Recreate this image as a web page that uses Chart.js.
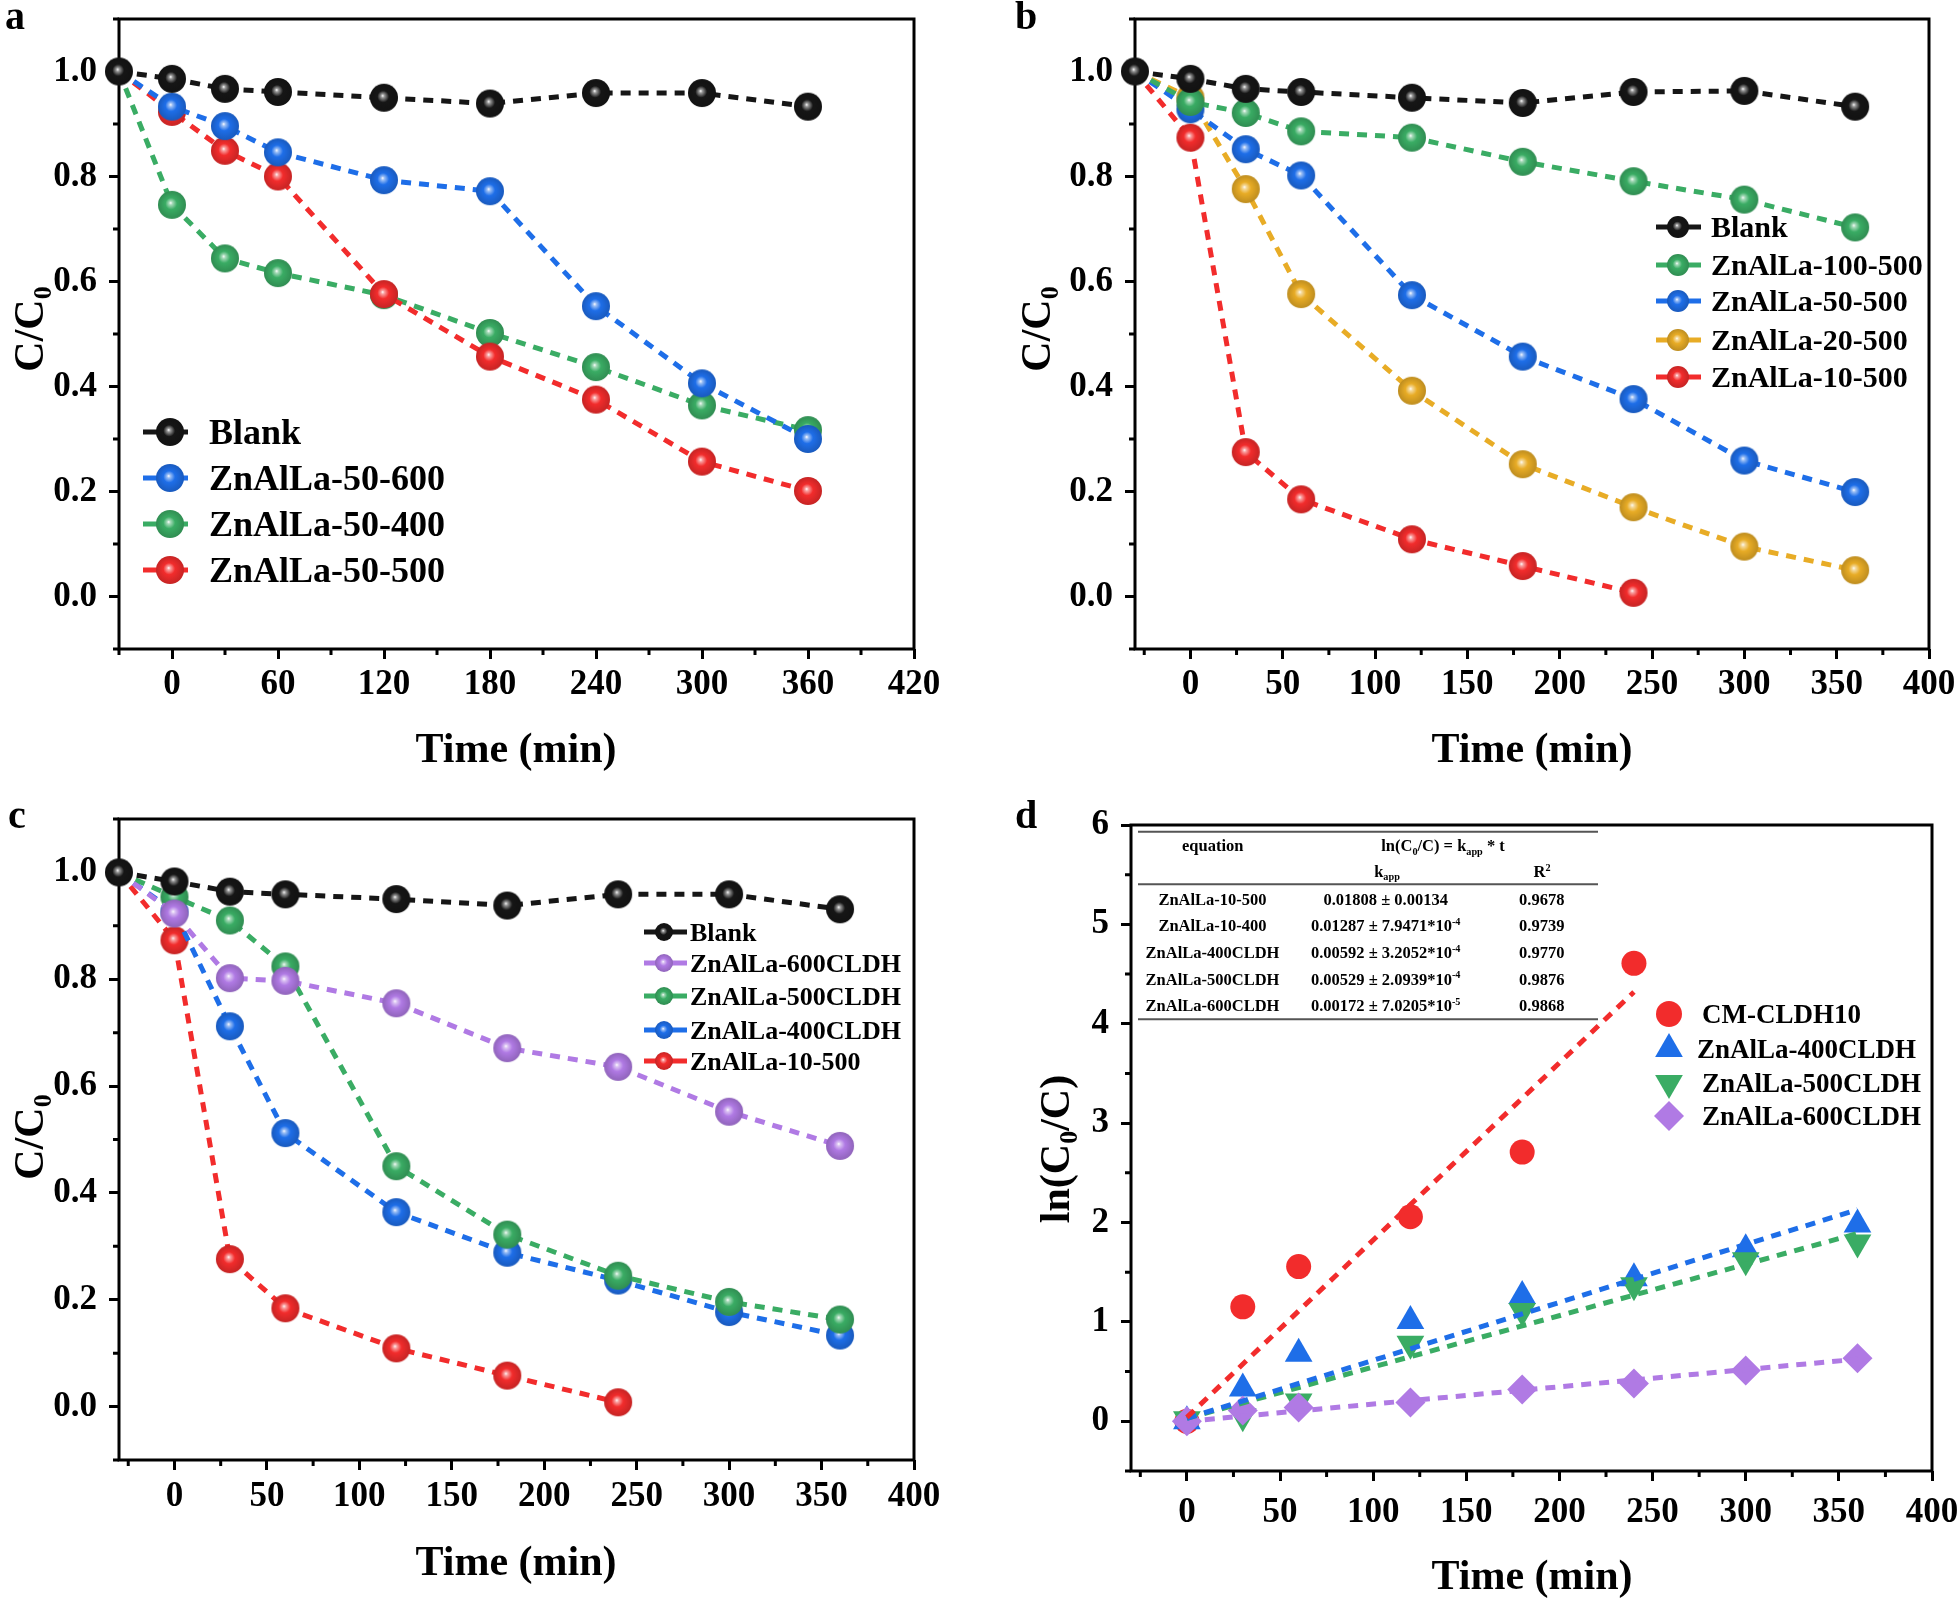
<!DOCTYPE html>
<html>
<head>
<meta charset="utf-8">
<script src="https://cdn.jsdelivr.net/npm/chart.js@4.4.1/dist/chart.umd.min.js"></script>
<style>
  body { margin: 0; background: #fff; width: 1960px; height: 1599px; position: relative; overflow: hidden; }
  canvas { position: absolute; }
</style>
</head>
<body>
<canvas id="chartA" width="980" height="800" style="left:0;top:0"></canvas>
<canvas id="chartB" width="980" height="800" style="left:980px;top:0"></canvas>
<canvas id="chartC" width="980" height="799" style="left:0;top:800px"></canvas>
<canvas id="chartD" width="980" height="799" style="left:980px;top:800px"></canvas>
<script>
// ---------- data, panel a ----------
const timeA = [-30, 0, 30, 60, 120, 180, 240, 300, 360];
const blankA = [1.0, 0.986, 0.967, 0.961, 0.950, 0.939, 0.959, 0.959, 0.933];
const znal50_600 = [1.0, 0.933, 0.896, 0.846, 0.793, 0.772, 0.553, 0.406, 0.300];
const znal50_400 = [1.0, 0.746, 0.644, 0.616, 0.574, 0.502, 0.437, 0.364, 0.317];
const znal50_500 = [1.0, 0.923, 0.849, 0.800, 0.576, 0.457, 0.375, 0.257, 0.201];
const xTicksA = [0, 60, 120, 180, 240, 300, 360, 420];
const xMinorA = [-30, 30, 90, 150, 210, 270, 330, 390];

// ---------- data, panel b ----------
const timeB = [-30, 0, 30, 60, 120, 180, 240, 300, 360];
const timeShort = [-30, 0, 30, 60, 120, 180, 240];
const blankB = [1.0, 0.986, 0.967, 0.961, 0.950, 0.940, 0.961, 0.963, 0.933];
const znal100_500 = [1.0, 0.942, 0.921, 0.886, 0.874, 0.828, 0.791, 0.756, 0.703];
const znal50_500b = [1.0, 0.928, 0.852, 0.802, 0.574, 0.457, 0.376, 0.259, 0.199];
const znal20_500 = [1.0, 0.950, 0.776, 0.576, 0.392, 0.252, 0.170, 0.095, 0.050];
const znal10_500 = [1.0, 0.874, 0.275, 0.185, 0.109, 0.058, 0.007];

// ---------- data, panel c ----------
const blankC = [1.0, 0.983, 0.964, 0.959, 0.950, 0.938, 0.959, 0.959, 0.931];
const cldh600 = [1.0, 0.923, 0.802, 0.797, 0.755, 0.671, 0.636, 0.552, 0.488];
const cldh500 = [1.0, 0.954, 0.910, 0.824, 0.450, 0.322, 0.245, 0.196, 0.163];
const cldh400 = [1.0, 0.926, 0.712, 0.512, 0.364, 0.288, 0.236, 0.177, 0.133];
const znal10_500c = [1.0, 0.873, 0.276, 0.184, 0.109, 0.058, 0.008];

const xTicksB = [0, 50, 100, 150, 200, 250, 300, 350, 400];
const xMinorB = [-25, 25, 75, 125, 175, 225, 275, 325, 375];
const yTicksC = [0, 0.2, 0.4, 0.6, 0.8, 1.0];
const yMinorC = [-0.1, 0.1, 0.3, 0.5, 0.7, 0.9, 1.1];

// ---------- data, panel d ----------
const timeD = [0, 30, 60, 120, 180, 240, 300, 360];
const timeDShort = [0, 30, 60, 120, 180, 240];
const lnCm10 = [0, 1.152, 1.557, 2.058, 2.709, 4.608];
const ln400 = [0, 0.33, 0.68, 1.01, 1.26, 1.44, 1.73, 1.98];
const ln500 = [0.02, 0.05, 0.20, 0.78, 1.11, 1.37, 1.62, 1.80];
const ln600 = [0, 0.11, 0.14, 0.19, 0.32, 0.38, 0.51, 0.635];
const fitRedX = [0, 240];
const fitRedY = [0.04, 4.32];
const fitX = [0, 360];
const fit400Y = [0.03, 2.13];
const fit500Y = [0.03, 1.89];
const fit600Y = [0.0, 0.625];
const yTicksD = [0, 1, 2, 3, 4, 5, 6];
const yMinorD = [-0.5, 0.5, 1.5, 2.5, 3.5, 4.5, 5.5];

const tableNames = ['ZnAlLa-10-500', 'ZnAlLa-10-400', 'ZnAlLa-400CLDH', 'ZnAlLa-500CLDH', 'ZnAlLa-600CLDH'];
const tableK = ['0.01808 ± 0.00134', '0.01287 ± 7.9471*10', '0.00592 ± 3.2052*10', '0.00529 ± 2.0939*10', '0.00172 ± 7.0205*10'];
const tableKExp = ['', '-4', '-4', '-4', '-5'];
const tableR2 = ['0.9678', '0.9739', '0.9770', '0.9876', '0.9868'];

// ---------- styles ----------
const FAM = '"Liberation Serif", "Times New Roman", serif';
const BLACK = [22, 22, 22], BLUE = [30, 110, 232], GREEN = [58, 172, 100],
      RED = [242, 44, 44], ORANGE = [232, 172, 38], PURPLE = [176, 122, 228];
const css = c => `rgb(${c[0]},${c[1]},${c[2]})`;

function sphere(rgb, r) {
  const s = Math.ceil(2 * r + 2);
  const cv = document.createElement('canvas');
  cv.width = cv.height = s;
  const g = cv.getContext('2d');
  const c = s / 2;
  const lit = rgb.map(v => Math.round(v + (255 - v) * 0.55));
  const dark = rgb.map(v => Math.round(v * 0.82));
  const gr = g.createRadialGradient(c - r * 0.1, c - r * 0.15, 0, c, c, r);
  gr.addColorStop(0, '#ffffff');
  gr.addColorStop(0.13, css(lit));
  gr.addColorStop(0.42, css(rgb));
  gr.addColorStop(1, css(dark));
  g.fillStyle = gr;
  g.beginPath();
  g.arc(c, c, r, 0, Math.PI * 2);
  g.fill();
  return cv;
}

function pts(xs, ys) {
  return xs.map((x, i) => ({ x: x, y: ys[i] }));
}

function sphereSet(label, xs, ys, rgb, hideFirst) {
  const img = sphere(rgb, 14);
  return {
    label: label, data: pts(xs, ys), clip: false,
    borderColor: css(rgb), borderWidth: 5, borderDash: [10, 8],
    pointStyle: img,
    pointRadius: c => (hideFirst && c.dataIndex === 0 ? 0 : 14),
    pointHoverRadius: 14
  };
}

function drawRich(ctx, parts, x, y, size, align) {
  let w = 0;
  const ws = parts.map(p => {
    ctx.font = `bold ${p[1] ? size * 0.62 : size}px ${FAM}`;
    const m = ctx.measureText(p[0]).width;
    w += m;
    return m;
  });
  let cx = align === 'left' ? x : x - w / 2;
  ctx.textAlign = 'left';
  ctx.textBaseline = 'alphabetic';
  ctx.fillStyle = '#000';
  parts.forEach((p, i) => {
    ctx.font = `bold ${p[1] ? size * 0.62 : size}px ${FAM}`;
    const dy = p[1] === 'sub' ? size * 0.2 : p[1] === 'sup' ? -size * 0.38 : 0;
    ctx.fillText(p[0], cx, y + dy);
    cx += ws[i];
  });
}

function drawShape(ctx, shape, r, x, y) {
  ctx.beginPath();
  if (shape === 'circle') {
    ctx.arc(x, y, r, 0, Math.PI * 2);
  } else if (shape === 'up' || shape === 'down') {
    const s = shape === 'up' ? 1 : -1;
    ctx.moveTo(x, y - s * r);
    ctx.lineTo(x + r * 0.866, y + s * r * 0.5);
    ctx.lineTo(x - r * 0.866, y + s * r * 0.5);
    ctx.closePath();
  } else {
    ctx.moveTo(x, y - r); ctx.lineTo(x + r, y); ctx.lineTo(x, y + r); ctx.lineTo(x - r, y);
    ctx.closePath();
  }
  ctx.fill();
}

// inset table of panel d
function drawTable(ctx) {
  ctx.save();
  ctx.strokeStyle = '#555';
  ctx.lineWidth = 2;
  const rules = [31.7, 84.3, 219.3];
  rules.forEach(y => {
    ctx.beginPath();
    ctx.moveTo(158, y);
    ctx.lineTo(618, y);
    ctx.stroke();
  });
  const fs = 16.5, off = fs * 0.33;
  drawRich(ctx, [['equation']], 232.7, 46 + off, fs, 'center');
  drawRich(ctx, [['ln(C'], ['0', 'sub'], ['/C) = k'], ['app', 'sub'], [' * t']], 463, 46 + off, fs, 'center');
  drawRich(ctx, [['k'], ['app', 'sub']], 407, 71.7 + off, fs, 'center');
  drawRich(ctx, [['R'], ['2', 'sup']], 562, 72 + off, fs, 'center');
  const rowY = [99.3, 126, 152.7, 179.3, 205.7];
  tableNames.forEach((n, i) => {
    const y = rowY[i] + off;
    drawRich(ctx, [[n]], 232.5, y, fs, 'center');
    const k = [[tableK[i]]];
    if (tableKExp[i]) k.push([tableKExp[i], 'sup']);
    drawRich(ctx, k, 405.7, y, fs, 'center');
    drawRich(ctx, [[tableR2[i]]], 561.7, y, fs, 'center');
  });
  ctx.restore();
}

// per-chart decorations: frame, minor ticks, legend, titles
function deco(cfg) {
  return {
    id: 'deco',
    beforeDatasetsDraw(chart) {
      const { ctx, chartArea: a, scales } = chart;
      ctx.save();
      ctx.strokeStyle = '#000';
      ctx.lineWidth = 3;
      ctx.beginPath();
      cfg.xMinor.forEach(v => {
        const px = scales.x.getPixelForValue(v);
        ctx.moveTo(px, a.bottom); ctx.lineTo(px, a.bottom + 6);
      });
      cfg.yMinor.forEach(v => {
        const py = scales.y.getPixelForValue(v);
        ctx.moveTo(a.left, py); ctx.lineTo(a.left - 6, py);
      });
      ctx.stroke();
      ctx.strokeRect(a.left, a.top, a.right - a.left, a.bottom - a.top);
      ctx.restore();
    },
    afterDraw(chart) {
      const ctx = chart.ctx;
      if (cfg.withTable) drawTable(ctx);
      ctx.save();
      const L = cfg.legend;
      L.items.forEach((it, i) => {
        const yy = L.ys[i];
        if (L.line) {
          ctx.strokeStyle = css(it.rgb);
          ctx.lineWidth = 5;
          ctx.beginPath(); ctx.moveTo(L.line[0], yy); ctx.lineTo(L.line[1], yy); ctx.stroke();
        }
        if (it.shape) {
          ctx.fillStyle = css(it.rgb);
          drawShape(ctx, it.shape, it.r, L.mx, yy);
        } else {
          const img = sphere(it.rgb, L.r);
          ctx.drawImage(img, L.mx - img.width / 2, yy - img.height / 2);
        }
        drawRich(ctx, [[it.text]], it.tx || L.tx, yy + L.size * 0.33, L.size, 'left');
      });
      // panel letter
      drawRich(ctx, [[cfg.letter[0]]], cfg.letter[1], cfg.letter[2], 40, 'left');
      // x title
      drawRich(ctx, [['Time (min)']], cfg.xTitle[0], cfg.xTitle[1], 42, 'center');
      // y title
      ctx.translate(cfg.yTitle[0], cfg.yTitle[1]);
      ctx.rotate(-Math.PI / 2);
      drawRich(ctx, cfg.yTitle[2], 0, 42 * 0.33, 42, 'center');
      ctx.restore();
    }
  };
}

function axis(pos, min, max, ticks, fmt, size, pad) {
  return {
    type: 'linear', position: pos, min: min, max: max,
    afterBuildTicks: s => { s.ticks = ticks.map(v => ({ value: v })); },
    afterFit: s => {
      if (pos === 'bottom') s.height = size; else s.width = size;
      s.paddingLeft = s.paddingRight = s.paddingTop = s.paddingBottom = 0;
    },
    ticks: {
      color: '#000', font: { family: FAM, size: 35, weight: 'bold' },
      padding: pad, maxRotation: 0, autoSkip: false, callback: fmt
    },
    grid: { drawOnChartArea: false, drawTicks: true, tickLength: 10, tickWidth: 3, tickColor: '#000', color: '#000' },
    border: { display: false }
  };
}

function makeChart(id, datasets, frame, xr, yr, cfg) {
  return new Chart(document.getElementById(id), {
    type: 'line',
    data: { datasets: datasets },
    options: {
      responsive: false, animation: false, devicePixelRatio: 1,
      layout: { padding: { top: frame.top, right: frame.right, left: 0, bottom: 0 } },
      plugins: { legend: { display: false }, tooltip: { enabled: false } },
      scales: {
        x: axis('bottom', xr[0], xr[1], xr[2], v => String(v), frame.bottom, xr[3]),
        y: axis('left', yr[0], yr[1], yr[2], yr[3], frame.left, 12)
      }
    },
    plugins: [deco(cfg)]
  });
}

const ccTitle = [['C/C'], ['0', 'sub']];
const fmt1 = v => v.toFixed(1);

// ---------- panel a ----------
makeChart('chartA', [
  sphereSet('Blank', timeA, blankA, BLACK, false),
  sphereSet('ZnAlLa-50-600', timeA, znal50_600, BLUE, true),
  sphereSet('ZnAlLa-50-500', timeA, znal50_500, RED, true),
  sphereSet('ZnAlLa-50-400', timeA, znal50_400, GREEN, true)
], { left: 119, top: 7, right: 66, bottom: 151 },
  [-30, 420, xTicksA, 5], [-0.1, 1.1, yTicksC, fmt1], {
  xMinor: xMinorA, yMinor: yMinorC,
  letter: ['a', 5, 29], xTitle: [516, 762], yTitle: [29, 329, ccTitle],
  legend: {
    line: [143, 188], mx: 170, tx: 209, r: 14, size: 36, ys: [432, 478, 524, 570],
    items: [
      { text: 'Blank', rgb: BLACK }, { text: 'ZnAlLa-50-600', rgb: BLUE },
      { text: 'ZnAlLa-50-400', rgb: GREEN }, { text: 'ZnAlLa-50-500', rgb: RED }
    ]
  }
});

// ---------- panel b ----------
makeChart('chartB', [
  sphereSet('Blank', timeB, blankB, BLACK, false),
  sphereSet('ZnAlLa-100-500', timeB, znal100_500, GREEN, true),
  sphereSet('ZnAlLa-50-500', timeB, znal50_500b, BLUE, true),
  sphereSet('ZnAlLa-20-500', timeB, znal20_500, ORANGE, true),
  sphereSet('ZnAlLa-10-500', timeShort, znal10_500, RED, true)
], { left: 155, top: 7, right: 31, bottom: 151 },
  [-30, 400, xTicksB, 5], [-0.1, 1.1, yTicksC, fmt1], {
  xMinor: xMinorB, yMinor: yMinorC,
  letter: ['b', 35, 29], xTitle: [552, 762], yTitle: [56, 329, ccTitle],
  legend: {
    line: [676, 721], mx: 698, tx: 731, r: 11, size: 30, ys: [227, 265, 301, 340, 377],
    items: [
      { text: 'Blank', rgb: BLACK }, { text: 'ZnAlLa-100-500', rgb: GREEN },
      { text: 'ZnAlLa-50-500', rgb: BLUE }, { text: 'ZnAlLa-20-500', rgb: ORANGE },
      { text: 'ZnAlLa-10-500', rgb: RED }
    ]
  }
});

// ---------- panel c ----------
makeChart('chartC', [
  sphereSet('Blank', timeB, blankC, BLACK, false),
  sphereSet('ZnAlLa-600CLDH', timeB, cldh600, PURPLE, true),
  sphereSet('ZnAlLa-500CLDH', timeB, cldh500, GREEN, true),
  sphereSet('ZnAlLa-400CLDH', timeB, cldh400, BLUE, true),
  sphereSet('ZnAlLa-10-500', timeShort, znal10_500c, RED, true)
], { left: 119, top: 16, right: 66, bottom: 139 },
  [-30, 400, xTicksB, 6], [-0.1, 1.1, yTicksC, fmt1], {
  xMinor: xMinorB, yMinor: yMinorC,
  letter: ['c', 8, 28], xTitle: [516, 775], yTitle: [29, 337, ccTitle],
  legend: {
    line: [644, 687], mx: 664, tx: 690, r: 9, size: 26, ys: [132, 163, 196, 230, 261],
    items: [
      { text: 'Blank', rgb: BLACK }, { text: 'ZnAlLa-600CLDH', rgb: PURPLE },
      { text: 'ZnAlLa-500CLDH', rgb: GREEN }, { text: 'ZnAlLa-400CLDH', rgb: BLUE },
      { text: 'ZnAlLa-10-500', rgb: RED }
    ]
  }
});

// ---------- panel d ----------
function fitSet(xs, ys, rgb) {
  return { data: pts(xs, ys), borderColor: css(rgb), borderWidth: 5, borderDash: [10, 8], pointRadius: 0, clip: false };
}
function markSet(label, xs, ys, rgb, style, r, rot) {
  return {
    label: label, data: pts(xs, ys), showLine: false, clip: false,
    pointStyle: style, pointRadius: r, pointRotation: rot || 0,
    pointBackgroundColor: css(rgb), pointBorderWidth: 0, borderColor: css(rgb)
  };
}

makeChart('chartD', [
  fitSet(fitRedX, fitRedY, RED),
  fitSet(fitX, fit400Y, BLUE),
  fitSet(fitX, fit500Y, GREEN),
  fitSet(fitX, fit600Y, PURPLE),
  markSet('ZnAlLa-600CLDH', timeD, ln600, PURPLE, 'rectRot', 15),
  markSet('ZnAlLa-500CLDH', timeD, ln500, GREEN, 'triangle', 16, 180),
  markSet('ZnAlLa-400CLDH', timeD, ln400, BLUE, 'triangle', 16),
  markSet('CM-CLDH10', timeDShort, lnCm10, RED, 'circle', 12.5)
], { left: 151, top: 25, right: 28, bottom: 128 },
  [-30, 400, xTicksB, 11], [-0.5, 6, yTicksD, v => String(v)], {
  xMinor: xMinorB, yMinor: yMinorD, withTable: true,
  letter: ['d', 35, 28], xTitle: [552, 789], yTitle: [75, 349, [['ln(C'], ['0', 'sub'], ['/C)']]],
  legend: {
    line: null, mx: 689, tx: 722, r: 14, size: 27, ys: [214, 249, 283, 316],
    items: [
      { text: 'CM-CLDH10', rgb: RED, shape: 'circle', r: 13 },
      { text: 'ZnAlLa-400CLDH', rgb: BLUE, shape: 'up', r: 16, tx: 717 },
      { text: 'ZnAlLa-500CLDH', rgb: GREEN, shape: 'down', r: 16 },
      { text: 'ZnAlLa-600CLDH', rgb: PURPLE, shape: 'diamond', r: 15 }
    ]
  }
});
</script>
</body>
</html>
